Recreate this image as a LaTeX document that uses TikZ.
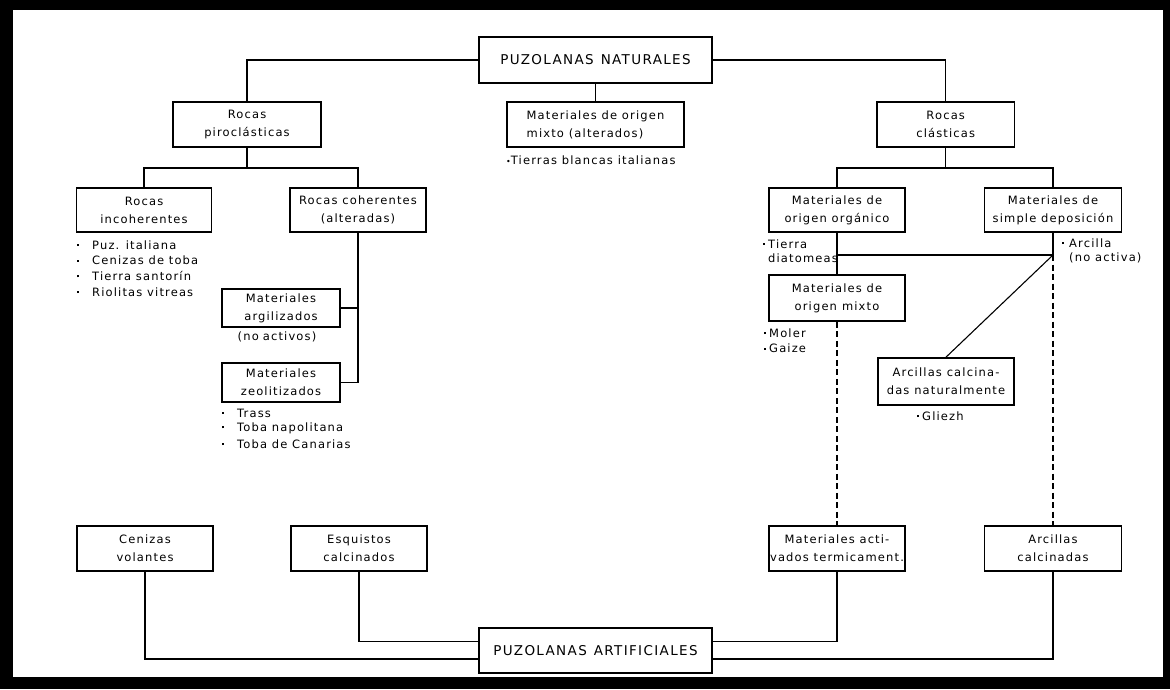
\documentclass[tikz,border=0pt]{standalone}
\usepackage{fontspec}
\setmainfont{DejaVu Sans}[LetterSpace=10]
\newcommand{\mydot}{\raisebox{3.2pt}{\rule{2pt}{2pt}}}
\begin{document}
\begin{tikzpicture}[x=1pt,y=-1pt,
  box/.style={draw, line width=1.7pt, inner sep=0pt, align=center, font=\fontsize{11.5}{18}\selectfont},
  big/.style={draw, line width=1.7pt, inner sep=0pt, align=center, font=\fontsize{13.5}{16}\selectfont},
  conn/.style={line width=1.1pt},
  dashline/.style={line width=1.1pt, dash pattern=on 6pt off 3.5pt},
  lbl/.style={inner sep=0pt, align=left, font=\fontsize{11.5}{15.5}\selectfont}]
% frame
\fill[black] (0,0) rectangle (1170,689);
\fill[white] (13,10) rectangle (1163,677);
% boxes
\node[big, minimum width=233pt, minimum height=46pt] (pn) at (595.5,60) {PUZOLANAS\hspace{7pt}NATURALES};
\node[box, minimum width=148pt, minimum height=45pt] (pir) at (247,124.5) {Rocas\\piroclásticas};
\node[box, align=left, minimum width=177.5pt, minimum height=45pt] (mix) at (595.5,124.5) {Materiales de origen\\mixto (alterados)};
\node[box, minimum width=137.5pt, minimum height=45pt] (cla) at (945.7,124.5) {Rocas\\clásticas};
\node[box, minimum width=135pt, minimum height=44pt] (inc) at (144,210) {Rocas\\incoherentes};
\node[box, minimum width=136pt, minimum height=44pt] (coh) at (358,210) {Rocas coherentes\\(alteradas)};
\node[box, minimum width=118pt, minimum height=38pt] (arg) at (281,308) {Materiales\\argilizados};
\node[box, minimum width=118pt, minimum height=39pt] (zeo) at (281,382.5) {Materiales\\zeolitizados};
\node[box, minimum width=136pt, minimum height=44pt] (org) at (837,210) {Materiales de\\origen orgánico};
\node[box, minimum width=137pt, minimum height=44pt] (sim) at (1053,210) {Materiales de\\simple deposición};
\node[box, minimum width=136pt, minimum height=46pt] (mx2) at (837,298) {Materiales de\\origen\hspace{5pt}mixto};
\node[box, minimum width=136.5pt, minimum height=47pt] (acn) at (946,381.5) {Arcillas calcina-\\das naturalmente};
\node[box, minimum width=136.5pt, minimum height=45pt] (cen) at (145,548.5) {Cenizas\\volantes};
\node[box, minimum width=136pt, minimum height=45pt] (esq) at (359,548.5) {Esquistos\\calcinados};
\node[box, minimum width=136pt, minimum height=45pt] (act) at (837,548.5) {Materiales acti-\\vados termicament.};
\node[box, minimum width=137pt, minimum height=45pt] (arc) at (1053,548.5) {Arcillas\\calcinadas};
\node[big, minimum width=233pt, minimum height=45pt] (pa) at (595.5,650.5) {PUZOLANAS\hspace{7pt}ARTIFICIALES};
% labels
\node[lbl, anchor=west] (tb) at (506,160) {{\fontsize{8}{8}\selectfont•}Tierras blancas italianas};
\node[lbl, anchor=west] (i1) at (77,245) {\makebox[15pt][l]{\mydot}Puz. italiana};
\node[lbl, anchor=west] (i2) at (77,260.5) {\makebox[15pt][l]{\mydot}Cenizas de toba};
\node[lbl, anchor=west] (i3) at (77,276) {\makebox[15pt][l]{\mydot}Tierra santorín};
\node[lbl, anchor=west] (i4) at (77,292) {\makebox[15pt][l]{\mydot}Riolitas vitreas};
\node[lbl] (na) at (277,337) {(no\hspace{4pt}activos)};
\node[lbl, anchor=west] (z1) at (222,413) {\makebox[15pt][l]{\mydot}Trass};
\node[lbl, anchor=west] (z2) at (222,428.5) {\makebox[15pt][l]{\mydot}Toba napolitana};
\node[lbl, anchor=west] (z3) at (222,444) {\makebox[15pt][l]{\mydot}Toba de Canarias};
\node[lbl, anchor=west, font=\fontsize{11.5}{14.5}\selectfont] (td) at (768,251) {\llap{\mydot\hspace{3pt}}Tierra\\diatomeas};
\node[lbl, anchor=west, font=\fontsize{11.5}{14.5}\selectfont] (ar) at (1069,251) {\llap{\mydot\hspace{5pt}}Arcilla\\(no activa)};
\node[lbl, anchor=west] (mo) at (769,333) {\llap{\mydot\hspace{3pt}}Moler};
\node[lbl, anchor=west] (ga) at (769,348.5) {\llap{\mydot\hspace{3pt}}Gaize};
\node[lbl, anchor=west] (gl) at (922,416) {\llap{\mydot\hspace{3pt}}Gliezh};
% connectors
\draw[conn] (pn.west) -| (pir.north);
\draw[conn] (pn.east) -| (cla.north);
\draw[conn] (pn.south) -- (mix.north);
\coordinate (pbr) at (247,168);
\draw[conn] (pir.south) -- (pbr);
\draw[conn] (inc.north) |- (pbr) -| (coh.north);
\draw[conn] (coh.south) |- (zeo.east);
\draw[conn] (arg.east) -- (arg.east -| coh.south);
\coordinate (cbr) at (945.7,168);
\draw[conn] (cla.south) -- (cbr);
\draw[conn] (org.north) |- (cbr) -| (sim.north);
\draw[conn] (org.south) -- (mx2.north);
\coordinate (aj) at (1053,255);
\draw[conn] (sim.south) -- (aj) -- (aj -| org.south);
\draw[conn] (aj) -- (acn.north);
\draw[dashline] (aj) -- (arc.north);
\draw[dashline] (mx2.south) -- (act.north);
\draw[conn] (esq.south) |- ([yshift=9pt]pa.west);
\draw[conn] (cen.south) |- ([yshift=-8.5pt]pa.west);
\draw[conn] (act.south) |- ([yshift=9pt]pa.east);
\draw[conn] (arc.south) |- ([yshift=-8.5pt]pa.east);
\end{tikzpicture}
\end{document}
